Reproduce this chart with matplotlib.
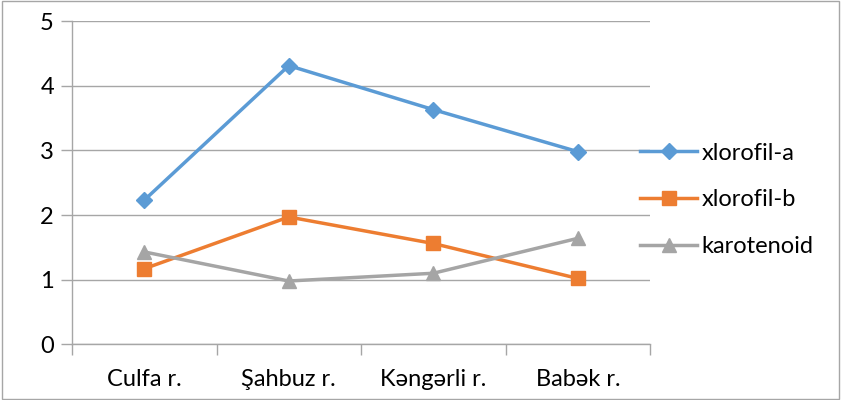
import matplotlib.pyplot as plt
from matplotlib.patches import Rectangle

plt.rcParams["font.family"] = ["Lato", "DejaVu Sans"]

categories = ["Culfa r.", "Şahbuz r.", "Kəngərli r.", "Babək r."]
xlorofil_a = [2.23, 4.31, 3.63, 2.98]
xlorofil_b = [1.17, 1.97, 1.56, 1.02]
karotenoid = [1.43, 0.98, 1.10, 1.64]

SERIES = [
    ("xlorofil-a", xlorofil_a, "#5B9BD5", "D", 8),
    ("xlorofil-b", xlorofil_b, "#ED7D31", "s", 9.5),
    ("karotenoid", karotenoid, "#A5A5A5", "^", 10),
]

fig = plt.figure(figsize=(8.41, 4.0), dpi=100)
ax = fig.add_axes([0.0856, 0.139, 0.6874, 0.8085])

x = list(range(len(categories)))
lines = []
for name, vals, color, marker, ms in SERIES:
    (ln,) = ax.plot(x, vals, color=color, lw=2.5, marker=marker, ms=ms,
                    label=name, zorder=3)
    lines.append(ln)

ax.set_xlim(-0.5, len(categories) - 0.5)
ax.set_ylim(0, 5)
ax.set_yticks(range(6))
ax.yaxis.grid(True, color="#A6A6A6", lw=1)
ax.set_axisbelow(True)

ax.set_xticks([i - 0.5 for i in range(len(categories) + 1)])
ax.set_xticklabels([])
ax.set_xticks(x, minor=True)
ax.set_xticklabels(categories, minor=True)
ax.tick_params(axis="x", which="major", length=8, color="#A6A6A6", width=1)
ax.tick_params(axis="x", which="minor", length=0, pad=18, labelsize=17)
ax.tick_params(axis="y", length=8, color="#A6A6A6", width=1, labelsize=17, pad=5)

for side in ["top", "right"]:
    ax.spines[side].set_visible(False)
for side in ["left", "bottom"]:
    ax.spines[side].set_color("#A6A6A6")
    ax.spines[side].set_linewidth(1)

ax.legend(lines, [l.get_label() for l in lines], loc="center left",
          bbox_to_anchor=(0.736, 0.5), bbox_transform=fig.transFigure,
          frameon=False, fontsize=17, handlelength=2.4, handletextpad=0.2,
          labelspacing=1.09)

fig.patches.append(Rectangle((0.002, 0.003), 0.996, 0.994, transform=fig.transFigure,
                             fill=False, edgecolor="#A6A6A6", lw=1))

fig.savefig("out.png", dpi=100)
